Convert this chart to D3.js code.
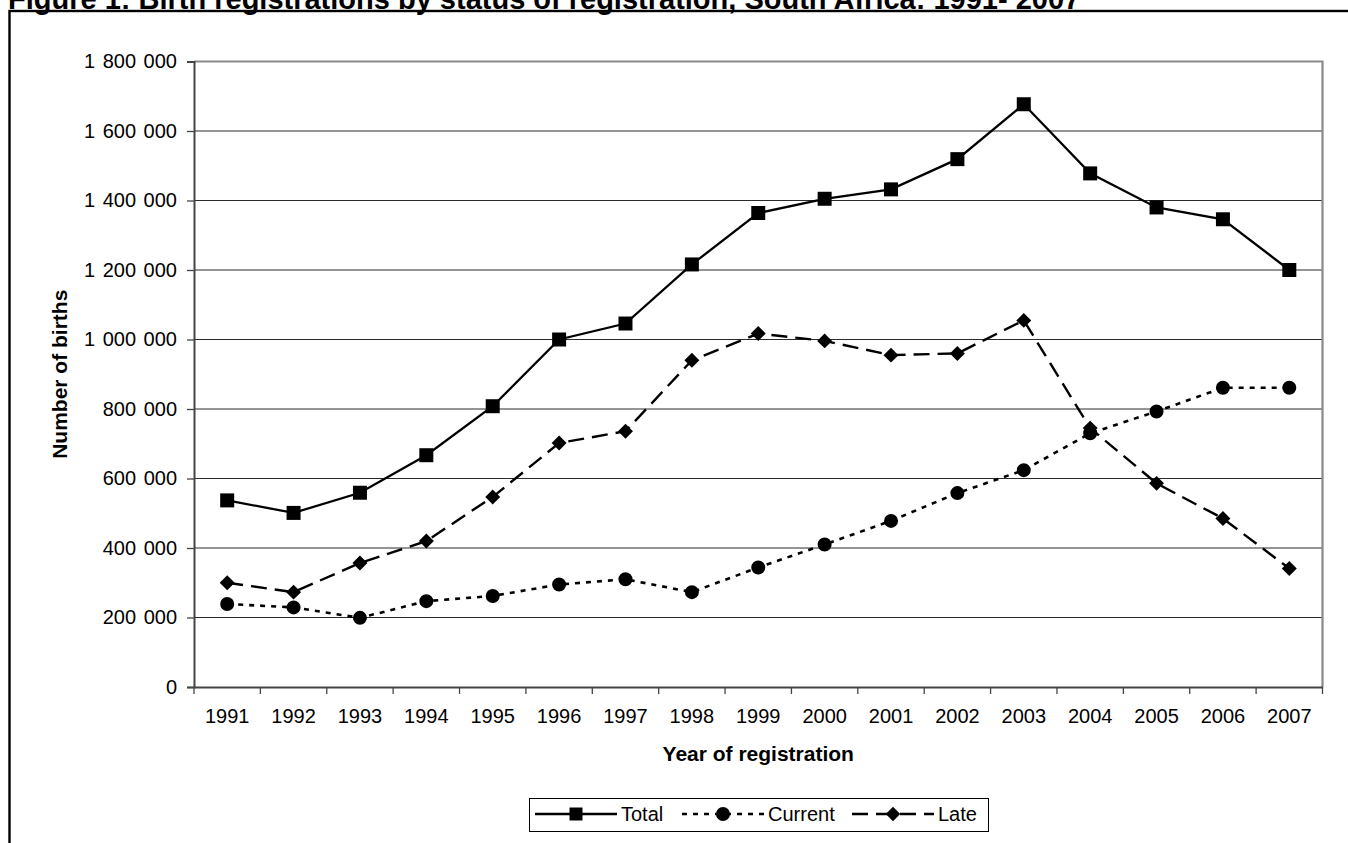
<!DOCTYPE html>
<html lang="en">
<head>
<meta charset="utf-8">
<style>
  body { margin: 0; background: #fff; }
  svg { font-family: 'Liberation Sans', Arial, sans-serif; display: block; }
  .grid line { stroke: #2a2a2a; stroke-width: 1; }
  .tick text { fill: #000; }
</style>
</head>
<body>
<svg width="1348" height="843"></svg>
<script src="https://d3js.org/d3.v7.min.js"></script>
<script>
// values
const years = [1991, 1992, 1993, 1994, 1995, 1996, 1997, 1998, 1999, 2000, 2001, 2002, 2003, 2004, 2005, 2006, 2007];
const total = [537000, 501000, 559000, 667000, 808000, 1000000, 1046000, 1216000, 1364000, 1405000, 1432000, 1519000, 1677000, 1478000, 1380000, 1346000, 1200000];
const current = [239000, 229000, 199000, 247000, 262000, 295000, 310000, 273000, 344000, 410000, 478000, 558000, 624000, 730000, 793000, 861000, 861000];
const late = [300000, 273000, 357000, 420000, 547000, 702000, 736000, 940000, 1017000, 996000, 955000, 960000, 1055000, 745000, 586000, 485000, 341000];
const yTicks = [0, 200000, 400000, 600000, 800000, 1000000, 1200000, 1400000, 1600000, 1800000];

const seriesNames = ["Total", "Current", "Late"];
const seriesValues = [total, current, late];

const svg = d3.select("svg");
const pLeft = 194, pRight = 1322.5, pTop = 61.5, pBottom = 687;

// title (partly cut off at the top) and frame
svg.append("text")
  .attr("x", 8).attr("y", 9)
  .style("font-size", "29px").style("font-weight", "bold")
  .text("Figure 1: Birth registrations by status of registration, South Africa: 1991- 2007");

svg.append("rect")
  .attr("x", 9.5).attr("y", 11).attr("width", 1500).attr("height", 1000)
  .attr("fill", "none").attr("stroke", "#000").attr("stroke-width", 2.4);

const x = d3.scaleBand().domain(years).range([pLeft, pRight]);
const y = d3.scaleLinear().domain([0, 1800000]).range([pBottom, pTop]);

// gridlines
svg.append("g").attr("class", "grid")
  .selectAll("line").data(yTicks.filter(d => d > 0 && d < 1800000)).join("line")
  .attr("x1", pLeft).attr("x2", pRight)
  .attr("y1", d => y(d)).attr("y2", d => y(d));

// top and right plot border
svg.append("path")
  .attr("d", `M${pLeft},${y(1800000)}H${pRight}V${pBottom}`)
  .attr("fill", "none").attr("stroke", "#8a8a8a").attr("stroke-width", 2.2);

// y axis
const fmt = d3.format(",");
const yAxis = svg.append("g")
  .attr("transform", `translate(${pLeft},0)`)
  .call(d3.axisLeft(y).tickValues(yTicks).tickSize(7).tickPadding(10)
    .tickFormat(d => fmt(d).replace(/,/g, " ")));
yAxis.select(".domain").attr("stroke", "#444").attr("stroke-width", 2);
yAxis.selectAll(".tick line").attr("stroke", "#444").attr("stroke-width", 1.3);
yAxis.selectAll(".tick text").style("font-size", "20px").style("word-spacing", "2px");

// x axis: labels centred, ticks on the category boundaries
const xAxis = svg.append("g")
  .attr("transform", `translate(0,${pBottom})`)
  .call(d3.axisBottom(x).tickSize(0).tickPadding(22));
xAxis.select(".domain").attr("stroke", "#444").attr("stroke-width", 2);
xAxis.selectAll(".tick text").style("font-size", "20px");
xAxis.selectAll("line.bound")
  .data(years.map(d => x(d)).concat([x(years[years.length - 1]) + x.bandwidth()]))
  .join("line").attr("class", "bound")
  .attr("x1", d => d).attr("x2", d => d).attr("y1", 0).attr("y2", 7)
  .attr("stroke", "#444").attr("stroke-width", 1.3);

// axis titles
svg.append("text")
  .attr("transform", `translate(67,${(pTop + pBottom) / 2}) rotate(-90)`)
  .attr("text-anchor", "middle")
  .style("font-size", "21px").style("font-weight", "bold")
  .text("Number of births");

svg.append("text")
  .attr("x", (pLeft + pRight) / 2).attr("y", 761)
  .attr("text-anchor", "middle")
  .style("font-size", "21px").style("font-weight", "bold")
  .text("Year of registration");

// line styles and markers
const dashes = ["none", "5,6", "16,8"];
const widths = [2.3, 2.6, 2.4];
const symbols = [
  d3.symbol(d3.symbolSquare, 196),
  d3.symbol(d3.symbolCircle, 154),
  d3.symbol(d3.symbolSquare, 112)
];
const rot = [0, 0, 45];

const cx = d => x(d) + x.bandwidth() / 2;
const line = d3.line().x((d, i) => cx(years[i])).y(d => y(d));

seriesValues.forEach((vals, s) => {
  const g = svg.append("g");
  g.append("path")
    .datum(vals)
    .attr("d", line)
    .attr("fill", "none").attr("stroke", "#000")
    .attr("stroke-width", widths[s])
    .attr("stroke-dasharray", dashes[s]);
  g.selectAll("path.mark").data(vals).join("path")
    .attr("class", "mark")
    .attr("d", symbols[s])
    .attr("transform", (d, i) => `translate(${cx(years[i])},${y(d)}) rotate(${rot[s]})`)
    .attr("fill", "#000");
});

// legend
const legend = svg.append("g");
legend.append("rect")
  .attr("x", 529.5).attr("y", 798.5).attr("width", 459).attr("height", 33)
  .attr("fill", "#fff").attr("stroke", "#000").attr("stroke-width", 1);

const legendSymbols = [
  d3.symbol(d3.symbolSquare, 169),
  d3.symbol(d3.symbolCircle, 154),
  d3.symbol(d3.symbolSquare, 104)
];
const legendStart = [535, 682, 852];
seriesNames.forEach((name, s) => {
  const x0 = legendStart[s], ly = 814;
  legend.append("line")
    .attr("x1", x0).attr("x2", x0 + 82).attr("y1", ly).attr("y2", ly)
    .attr("stroke", "#000").attr("stroke-width", widths[s])
    .attr("stroke-dasharray", dashes[s]);
  legend.append("path")
    .attr("d", legendSymbols[s])
    .attr("transform", `translate(${x0 + 41},${ly}) rotate(${rot[s]})`)
    .attr("fill", "#000");
  legend.append("text")
    .attr("x", x0 + 86).attr("y", 820.5)
    .style("font-size", "20px")
    .text(name);
});
</script>
</body>
</html>
